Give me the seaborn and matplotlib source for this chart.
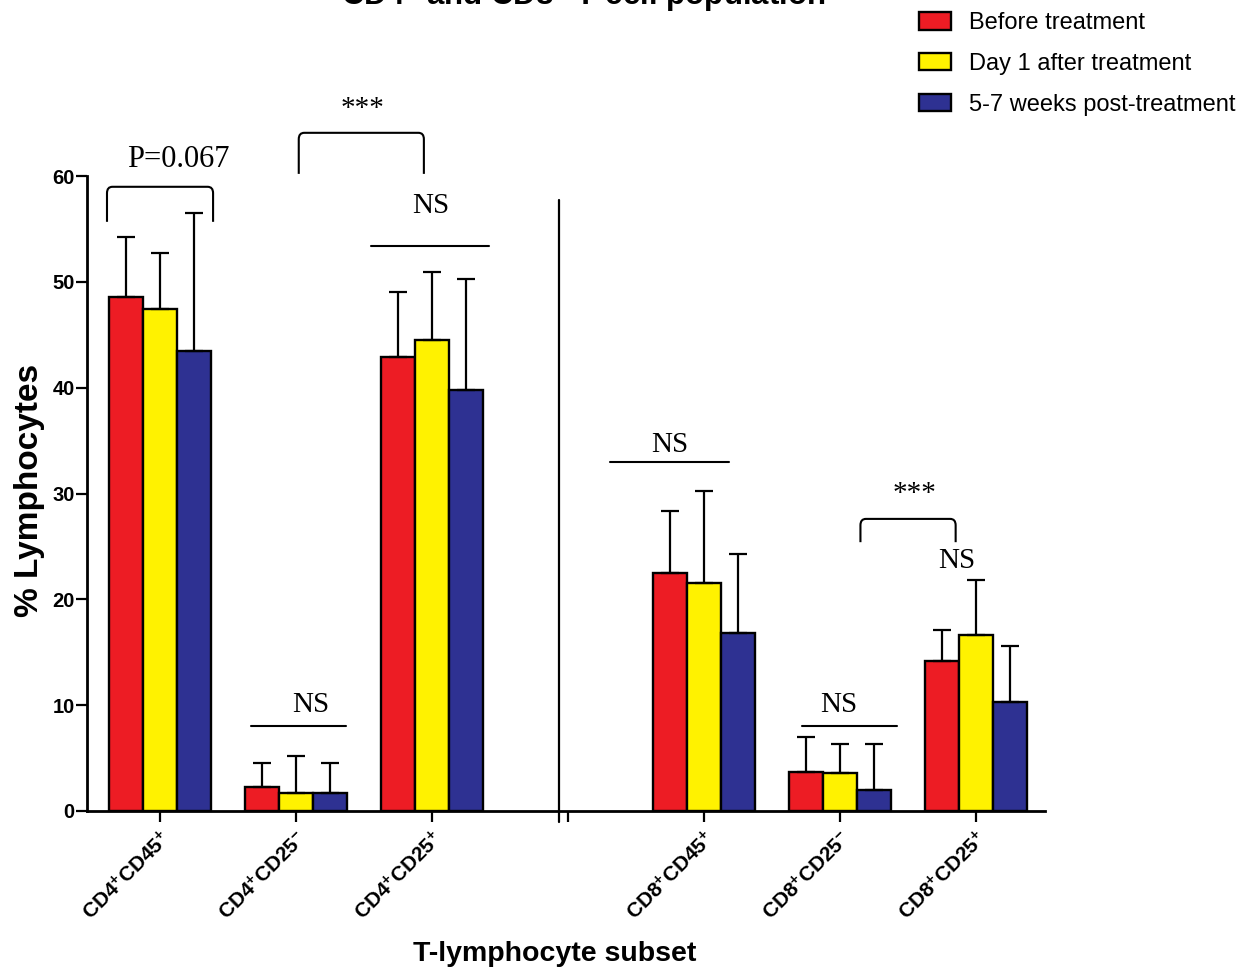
import numpy as np
import pandas as pd
import matplotlib
matplotlib.use("Agg")
import matplotlib.pyplot as plt
from matplotlib.path import Path
from matplotlib.patches import PathPatch
from matplotlib.container import BarContainer
import seaborn as sns

# T-lymphocyte subsets and their tick labels
subsets = ["CD4+CD45+", "CD4+CD25-", "CD4+CD25+", "CD8+CD45+", "CD8+CD25-", "CD8+CD25+"]
tick_labels = [r"CD4$^{+}$CD45$^{+}$", r"CD4$^{+}$CD25$^{-}$", r"CD4$^{+}$CD25$^{+}$",
               r"CD8$^{+}$CD45$^{+}$", r"CD8$^{+}$CD25$^{-}$", r"CD8$^{+}$CD25$^{+}$"]
timepoints = ["Before treatment", "Day 1 after treatment", "5-7 weeks post-treatment"]

# mean % lymphocytes per time point
before = [48.6, 2.3, 42.9, 22.5, 3.7, 14.2]
day1 = [47.4, 1.7, 44.5, 21.5, 3.6, 16.6]
weeks = [43.5, 1.7, 39.8, 16.8, 2.0, 10.3]
# standard deviations (upper error bars)
before_sd = [5.6, 2.2, 6.1, 5.8, 3.3, 2.9]
day1_sd = [5.3, 3.5, 6.4, 8.7, 2.7, 5.2]
weeks_sd = [13.0, 2.8, 10.5, 7.5, 4.3, 5.3]

colors = ["#ED1C24", "#FFF200", "#2E3192"]

rows = []
for tp, means, sds in zip(timepoints, [before, day1, weeks], [before_sd, day1_sd, weeks_sd]):
    for s, m, sd in zip(subsets, means, sds):
        rows.append({"subset": s, "timepoint": tp, "mean": m, "sd": sd})
df = pd.DataFrame(rows)
sd_lookup = {(r.subset, r.timepoint): r.sd for r in df.itertuples()}

# an empty slot separates the CD4 and CD8 groups
order = subsets[:3] + [""] + subsets[3:]

sns.set_style("ticks")
plt.rcParams["font.family"] = ["Liberation Sans", "DejaVu Sans"]
plt.rcParams["mathtext.fontset"] = "custom"
plt.rcParams["mathtext.rm"] = "Liberation Sans"
plt.rcParams["mathtext.bf"] = "Liberation Sans:bold"
plt.rcParams["mathtext.default"] = "bf"
for key in ["text.color", "axes.labelcolor", "xtick.color", "ytick.color", "axes.edgecolor"]:
    plt.rcParams[key] = "black"

fig = plt.figure(figsize=(12.42, 9.69), dpi=100)
ax = fig.add_axes([87 / 1242, 1 - 811 / 969, (1045 - 87) / 1242, (811 - 176) / 969])

sns.barplot(data=df, x="subset", y="mean", hue="timepoint", order=order,
            hue_order=timepoints, palette=colors, width=0.75, saturation=1,
            edgecolor="black", linewidth=1.7, errorbar=None, ax=ax)

# upper-only error bars on each bar
bar_containers = [c for c in ax.containers if isinstance(c, BarContainer)]
for j, cont in enumerate(bar_containers):
    for bar in cont:
        if bar is None:
            continue
        xc = bar.get_x() + bar.get_width() / 2
        cat = order[int(round(xc))]
        sd = sd_lookup[(cat, timepoints[j])]
        ax.errorbar(xc, bar.get_height(), yerr=[[0], [sd]], fmt="none",
                    ecolor="black", elinewidth=1.6, capsize=6.5, capthick=1.6)

ax.set_ylim(0, 60)
ax.set_xlim(-0.537, 6.507)
ax.set_yticks([0, 10, 20, 30, 40, 50, 60])
ax.set_xticks(range(len(order)))
ax.set_xticklabels(tick_labels[:3] + [""] + tick_labels[3:])
ax.set_xlabel("")
ax.set_ylabel("")
sns.despine(ax=ax)
for sp in ["left", "bottom"]:
    ax.spines[sp].set_linewidth(2.0)
ax.tick_params(axis="both", width=1.6, length=8, direction="out")
ax.tick_params(axis="y", labelsize=14.5, pad=1)
ax.tick_params(axis="x", labelsize=15, pad=4)
for lab in ax.get_yticklabels():
    lab.set_fontweight("bold")
for lab in ax.get_xticklabels():
    lab.set_fontweight("bold")
    lab.set_rotation(45)
    lab.set_ha("right")
    lab.set_va("top")
    lab.set_rotation_mode("anchor")

# divider between CD4 and CD8 subsets
ax.plot([2.934, 2.934], [-1.05, 57.7], color="black", lw=1.6, clip_on=False)

# significance annotations
serif = {"family": ["Liberation Serif", "DejaVu Serif"], "size": 21}


def bracket(x0, x1, ytop, ylegs, rx=0.04, ry=0.6):
    verts = [(x0, ylegs), (x0, ytop - ry), (x0, ytop), (x0 + rx, ytop),
             (x1 - rx, ytop), (x1, ytop), (x1, ytop - ry), (x1, ylegs)]
    codes = [Path.MOVETO, Path.LINETO, Path.CURVE3, Path.CURVE3,
             Path.LINETO, Path.CURVE3, Path.CURVE3, Path.LINETO]
    ax.add_patch(PathPatch(Path(verts, codes), fill=False, lw=1.5,
                           edgecolor="black", clip_on=False))


bracket(-0.39, 0.39, 58.98, 55.67)
bracket(1.02, 1.94, 64.08, 60.2)
bracket(5.15, 5.85, 27.6, 25.4)

for x0, x1, y in [(1.55, 2.42, 53.4), (0.67, 1.37, 8.03),
                  (3.31, 4.18, 33.0), (4.72, 5.42, 8.03)]:
    ax.plot([x0, x1], [y, y], color="black", lw=1.5, clip_on=False)

for txt, x, y, sz in [("P=0.067", 0.137, 60.87, 22), ("***", 1.49, 65.7, 21),
                      ("NS", 1.99, 56.5, 21), ("NS", 1.11, 9.36, 21),
                      ("NS", 3.75, 33.9, 21), ("NS", 4.99, 9.36, 21),
                      ("***", 5.55, 29.3, 21), ("NS", 5.86, 22.95, 21)]:
    ax.text(x, y, txt, ha="center", va="baseline", clip_on=False,
            family=serif["family"], size=sz)

# legend in the upper right corner of the figure
handles, labels = ax.get_legend_handles_labels()
if ax.get_legend() is not None:
    ax.get_legend().remove()
fig.legend(handles, labels, loc="upper left", bbox_to_anchor=(919 / 1242, 0.9875),
           frameon=False, fontsize=17, handlelength=1.36, handleheight=0.75,
           handletextpad=0.75, labelspacing=0.8, borderpad=0, borderaxespad=0)

fig.text(583 / 1242, 1 - 6 / 969, r"CD4$^{+}$ and CD8$^{+}$ T-cell population",
         ha="center", va="baseline", fontsize=22.5, fontweight="bold")
fig.text(30 / 1242, 1 - 490 / 969, "% Lymphocytes", rotation=90, ha="center",
         va="center", fontsize=24, fontweight="bold")
fig.text(555 / 1242, 1 - 954 / 969, "T-lymphocyte subset", ha="center",
         va="center", fontsize=20.5, fontweight="bold")

fig.savefig("out.png", dpi=100)
